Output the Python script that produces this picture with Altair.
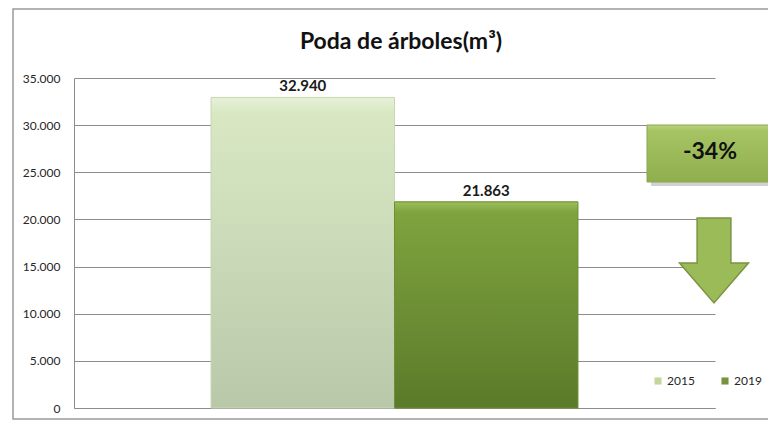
import altair as alt
import pandas as pd

series = ["2015", "2019"]
values = [32940, 21863]
legend_colors = ["#c3d69b", "#77933c"]
y_ticks = [0, 5000, 10000, 15000, 20000, 25000, 30000, 35000]
title_text = "Poda de árboles(m³)"
change_label = "-34%"

df = pd.DataFrame({"series": series, "value": values})

W, H = 641, 330
FONT = "Lato"

x_enc = alt.X("series:N", sort=series,
              scale=alt.Scale(paddingInner=0, paddingOuter=0.747),
              axis=alt.Axis(labels=False, ticks=False, title=None,
                            domainColor="#8c8c8c", grid=False))
y_enc = alt.Y("value:Q", scale=alt.Scale(domain=[0, 35000], nice=False),
              axis=alt.Axis(values=y_ticks, labelExpr="replace(datum.label, ',', '.')",
                            ticks=False, title=None, domainColor="#8c8c8c",
                            gridColor="#8c8c8c", gridWidth=1, labelPadding=14,
                            labelFont=FONT, labelFontSize=12, labelColor="#262626"))

base = alt.Chart(df)

# solid bars carry the legend
bars = base.mark_bar().encode(
    x=x_enc, y=y_enc,
    color=alt.Color("series:N", sort=series,
                    scale=alt.Scale(domain=series, range=legend_colors),
                    legend=alt.Legend(title=None, orient="none", direction="horizontal",
                                      legendX=578, legendY=297, symbolType="square",
                                      symbolSize=50, symbolStrokeWidth=0,
                                      labelFont=FONT, labelFontSize=12,
                                      labelColor="#262626", columnPadding=24,
                                      labelOffset=3)),
)

grad_light = alt.LinearGradient(gradient="linear", x1=0, x2=0, y1=0, y2=1, stops=[
    alt.GradientStop(offset=0, color="#e6f0d8"),
    alt.GradientStop(offset=0.05, color="#d9e8c3"),
    alt.GradientStop(offset=1, color="#b9c8a9"),
])
grad_dark = alt.LinearGradient(gradient="linear", x1=0, x2=0, y1=0, y2=1, stops=[
    alt.GradientStop(offset=0, color="#9cbf5c"),
    alt.GradientStop(offset=0.05, color="#7fa33e"),
    alt.GradientStop(offset=1, color="#5b7a2a"),
])

bar15 = base.transform_filter(alt.datum.series == "2015").mark_bar(
    color=grad_light, stroke="#c8d6b4", strokeWidth=1).encode(x=x_enc, y="value:Q")
bar19 = base.transform_filter(alt.datum.series == "2019").mark_bar(
    color=grad_dark, stroke="#6c8f33", strokeWidth=1).encode(x=x_enc, y="value:Q")

labels = base.transform_calculate(
    lab="replace(format(datum.value, ',d'), ',', '.')"
).mark_text(baseline="bottom", dy=-3, font=FONT, fontSize=15, fontWeight="bold",
            color="#1a1a1a").encode(x=x_enc, y="value:Q", text="lab:N")

one = alt.Chart(pd.DataFrame({"k": [0]}))

frame = one.mark_rect(fill=None, stroke="#9a9a9a", strokeWidth=1.5).encode(
    x=alt.value(-61), x2=alt.value(W + 80), y=alt.value(-69), y2=alt.value(H + 11))

title = one.mark_text(font=FONT, fontSize=23, fontWeight="bold", color="#111111",
                      align="center", baseline="alphabetic").encode(
    x=alt.value(W / 2 + 6.5), y=alt.value(-29), text=alt.value(title_text))

box_grad = alt.LinearGradient(gradient="linear", x1=0, x2=0, y1=0, y2=1, stops=[
    alt.GradientStop(offset=0, color="#b8d47f"),
    alt.GradientStop(offset=0.1, color="#a6c464"),
    alt.GradientStop(offset=1, color="#8fae4d"),
])
box_shadow = one.mark_rect(color="#000000", opacity=0.18).encode(
    x=alt.value(577), x2=alt.value(705), y=alt.value(50), y2=alt.value(108))
box = one.mark_rect(color=box_grad, stroke="#89a650", strokeWidth=1).encode(
    x=alt.value(573), x2=alt.value(702), y=alt.value(47), y2=alt.value(104))
box_text = one.mark_text(font=FONT, fontSize=23, fontWeight="bold", color="#111111",
                         baseline="middle", align="center").encode(
    x=alt.value(636), y=alt.value(74), text=alt.value(change_label))

arrow_path = "M-0.49,-1.23 L0.49,-1.23 L0.49,0.07 L1,0.07 L0,1.23 L-1,0.07 L-0.49,0.07 Z"
arrow = one.mark_point(shape=arrow_path, filled=True, fill="#9bbb59", stroke="#7a9440",
                       strokeWidth=1.5, opacity=1).encode(
    x=alt.value(640), y=alt.value(182.5), size=alt.value(4761))

chart = alt.layer(frame, title, bars, bar15, bar19, labels, box_shadow, box, box_text,
                  arrow).properties(
    width=W, height=H,
    autosize=alt.AutoSizeParams(type="none"),
    padding={"left": 66, "top": 70, "right": 53, "bottom": 12},
).configure_view(stroke=None)

chart.save("out.html", embed_options={"renderer": "svg", "actions": False})
